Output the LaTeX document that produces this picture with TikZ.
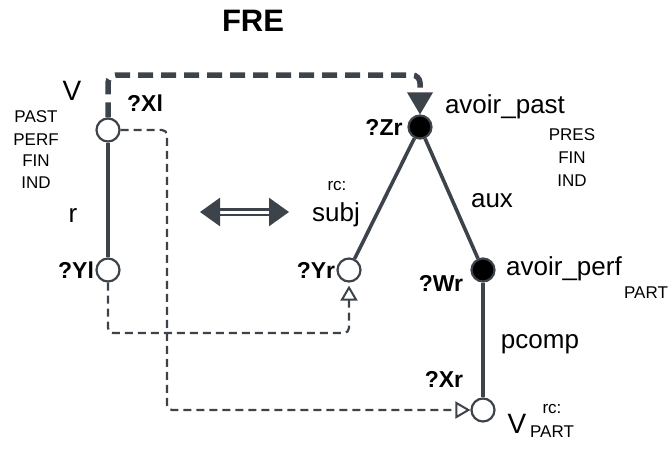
\documentclass[tikz,border=0pt]{standalone}
\usepackage{fontspec}
\setmainfont{Liberation Sans}
\usetikzlibrary{arrows.meta}
\definecolor{ink}{HTML}{3D434A}

\begin{document}
\begin{tikzpicture}[x=1pt, y=-1pt, ink,
  var/.style={circle, draw=ink, line width=2.2pt, minimum size=23pt, inner sep=0pt, fill=white},
  headvar/.style={var, fill=black},
  tag/.style={font=\bfseries\fontsize{23}{25}\selectfont, text=black},
  lex/.style={anchor=base, font=\fontsize{26}{28}\selectfont, text=black},
  feat/.style={anchor=base, font=\fontsize{17}{19}\selectfont, text=black},
  dep/.style={line width=3.6pt},
  link/.style={line width=2.2pt, dash pattern=on 8pt off 5pt, rounded corners=5pt},
  feed/.style={-{Triangle[open, length=15pt, width=17pt, line width=2pt]}}]

  \useasboundingbox (0,0) rectangle (672,448);

  % variables
  \node[var]     (Xl) at (108,130) {};
  \node[var]     (Yl) at (108,270) {};
  \node[headvar] (Zr) at (420,127) {};
  \node[var]     (Yr) at (349,270) {};
  \node[headvar] (Wr) at (483,270) {};
  \node[var]     (Xr) at (483,410) {};

  \node[tag] (tXl) at (145,103) {?Xl};
  \node[tag] (tYl) at (76,270)  {?Yl};
  \node[tag] (tZr) at (384,127) {?Zr};
  \node[tag] (tYr) at (316,270) {?Yr};
  \node[tag] (tWr) at (441,283) {?Wr};
  \node[tag] (tXr) at (444,379) {?Xr};

  % dependencies
  \path[dep] (Xl) edge (Yl)
             (Zr) edge (Yr)
                  edge (Wr)
             (Wr) edge (Xr);

  % left side
  \node[lex]  (vl)   at (72,100)  {\fontsize{28}{30}\selectfont V};
  \node[feat] (fl1)  at (36,122)  {PAST};
  \node[feat] (fl2)  at (36,145)  {PERF};
  \node[feat] (fl3)  at (36,166)  {FIN};
  \node[feat] (fl4)  at (36,188)  {IND};
  \node[lex]  (rel)  at (73,222)  {r};

  % right side
  \node[lex]  (past) at (505,113) {avoir\_past};
  \node[feat] (fr1)  at (572,140) {PRES};
  \node[feat] (fr2)  at (572,163) {FIN};
  \node[feat] (fr3)  at (572,186) {IND};
  \node[feat] (rc1)  at (337,190) {rc:};
  \node[lex]  (subj) at (336,221) {subj};
  \node[lex]  (aux)  at (492,207) {aux};
  \node[lex]  (perf) at (564,275) {avoir\_perf};
  \node[feat] (prt1) at (646,298) {PART};
  \node[lex]  (pcmp) at (540,348) {pcomp};
  \node[lex]  (vr)   at (517,433) {\fontsize{28}{30}\selectfont V};
  \node[feat] (rc2)  at (552,413) {rc:};
  \node[feat] (prt2) at (552,437) {PART};

  % correspondence
  \node[anchor=base, font=\bfseries\fontsize{31}{33}\selectfont, text=black] (fre) at (253,31) {FRE};
  \draw[line width=5.5pt, dash pattern=on 15pt off 8pt, rounded corners=8pt,
        -{Triangle[length=22pt, width=26pt, line width=0pt]}]
    (Xl.north) |- (260,75) -| (Zr.north);

  \coordinate (eqL) at (200,212);
  \coordinate (eqR) at (289,212);
  \draw[line width=2.6pt, double=white, double distance=3pt,
        {Triangle[length=20pt, width=28pt]}-{Triangle[length=20pt, width=28pt]}] (eqL) -- (eqR);

  \draw[link, feed] (Xl.east) -| (167,410) -- (Xr.west);
  \draw[link, feed, shorten >=3pt] (Yl.south) |- (349,333) -- (Yr.south);

\end{tikzpicture}
\end{document}
